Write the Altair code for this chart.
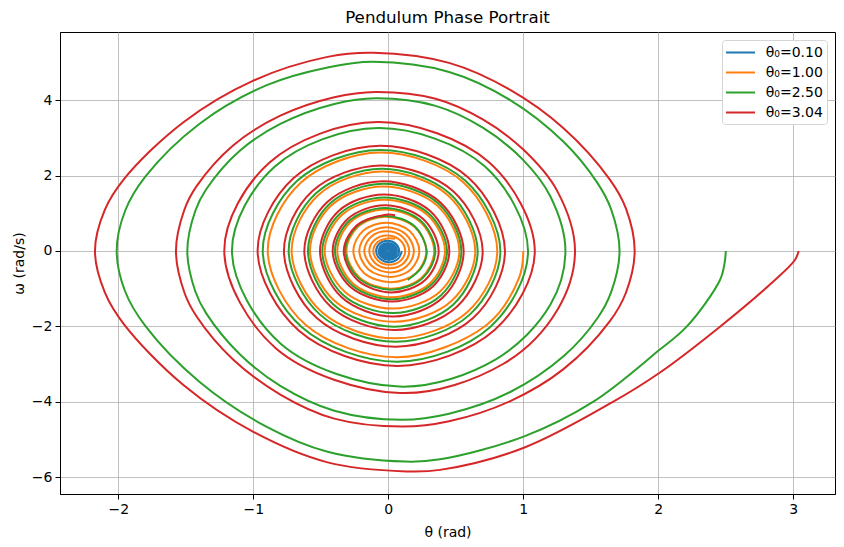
import altair as alt
import pandas as pd

labels = ["θ₀=0.10", "θ₀=1.00", "θ₀=2.50", "θ₀=3.04"]
colors = ["#1f77b4", "#ff7f0e", "#2ca02c", "#d62728"]

# Each trajectory: (θ, ω) points, in drawing order
red_points = [
    (3.04, 0), (3.012, -0.24), (2.852, -0.81), (2.457, -2.01), (2.007, -3.24),
    (1.667, -4.0), (1.0, -5.23), (0.383, -5.81), (0.133, -5.85),
    (-0.45, -5.61), (-1.0, -4.80), (-1.52, -3.55), (-1.955, -1.96), (-2.10, -1.10), (-2.173, 0),
    (-2.10, 1.09), (-1.955, 1.92), (-1.52, 3.41), (-1.0, 4.52), (-0.45, 5.15), (-0.11, 5.26),
    (0.45, 4.99), (0.9, 4.28), (1.3, 3.25), (1.64, 1.90), (1.76, 1.13), (1.825, 0),
    (1.76, -1.11), (1.64, -1.87), (1.3, -3.13), (0.9, -3.99), (0.45, -4.52), (0.105, -4.66),
    (-0.4, -4.45), (-0.8, -3.81), (-1.15, -2.88), (-1.42, -1.74), (-1.51, -1.11), (-1.573, 0),
    (-1.51, 1.10), (-1.42, 1.72), (-1.15, 2.80), (-0.8, 3.59), (-0.4, 4.08), (-0.096, 4.22),
    (0.35, 4.04), (0.7, 3.49), (1.0, 2.69), (1.25, 1.60), (1.383, 0),
    (1.25, -1.58), (0.85, -3.0), (0.086, -3.77), (-0.834, -2.58), (-1.215, 0),
    (-0.882, 2.34), (-0.078, 3.42), (0.744, 2.36), (1.085, 0),
    (0.787, -2.10), (0.069, -3.05), (-0.664, -2.11), (-0.968, 0),
    (-0.703, 1.93), (-0.063, 2.79), (0.592, 1.95), (0.864, 0),
    (0.628, -1.78), (0.058, -2.54), (-0.530, -1.78), (-0.773, 0),
    (-0.562, 1.59), (-0.052, 2.27), (0.479, 1.59), (0.699, 0),
    (0.508, -1.48), (0.048, -2.10), (-0.426, -1.48), (-0.622, 0),
    (-0.452, 1.30), (-0.042, 1.85), (0.382, 1.30), (0.558, 0),
    (0.406, -1.23), (0.04, -1.74), (-0.346, -1.23), (-0.506, 0),
    (-0.368, 1.06), (-0.034, 1.50), (0.310, 1.06), (0.452, 0),
    (0.328, -0.95), (0.03, -1.34), (-0.282, -0.95), (-0.412, 0),
    (-0.299, 0.855), (-0.027, 1.21), (0.256, 0.855), (0.373, 0),
    (0.271, -0.78), (0.025, -1.10), (-0.226, -0.78), (-0.330, 0),
    (-0.233, 0.68), (-0.02, 0.96), (0.05, 0.95),
]

green_points = [
    (2.5, 0), (2.492, -0.3), (2.457, -0.77), (2.21, -2.01), (2.007, -2.63),
    (1.519, -4.0), (1.007, -4.92), (0.383, -5.53), (0.127, -5.59),
    (-0.45, -5.33), (-0.9, -4.67), (-1.4, -3.47), (-1.8, -1.99), (-1.95, -1.07), (-2.012, 0),
    (-1.95, 1.06), (-1.8, 1.97), (-1.4, 3.37), (-0.9, 4.40), (-0.45, 4.87), (-0.114, 5.02),
    (0.45, 4.75), (0.9, 4.01), (1.3, 2.89), (1.55, 1.80), (1.65, 1.11), (1.713, 0),
    (1.65, -1.10), (1.55, -1.78), (1.3, -2.79), (0.9, -3.75), (0.45, -4.32), (0.10, -4.48),
    (-0.4, -4.24), (-0.8, -3.58), (-1.1, -2.74), (-1.35, -1.65), (-1.43, -1.07), (-1.489, 0),
    (-1.43, 1.06), (-1.35, 1.63), (-1.1, 2.66), (-0.8, 3.37), (-0.4, 3.90), (-0.092, 4.05),
    (0.35, 3.85), (0.7, 3.27), (1.0, 2.41), (1.2, 1.45), (1.312, 0),
    (1.2, -1.43), (0.80, -2.87), (0.082, -3.60), (-0.795, -2.47), (-1.158, 0),
    (-0.840, 2.24), (-0.074, 3.26), (0.710, 2.26), (1.035, 0),
    (0.751, -2.03), (0.067, -2.94), (-0.638, -2.03), (-0.930, 0),
    (-0.675, 1.86), (-0.061, 2.68), (0.569, 1.87), (0.830, 0),
    (0.603, -1.69), (0.055, -2.41), (-0.506, -1.69), (-0.738, 0),
    (-0.536, 1.53), (-0.05, 2.18), (0.453, 1.53), (0.662, 0),
    (0.482, -1.42), (0.046, -2.01), (-0.407, -1.42), (-0.595, 0),
    (-0.432, 1.26), (-0.04, 1.78), (0.371, 1.26), (0.541, 0),
    (0.393, -1.17), (0.037, -1.65), (-0.335, -1.17), (-0.489, 0),
    (-0.355, 1.00), (-0.032, 1.42), (0.298, 1.00), (0.435, 0),
    (0.316, -0.905), (0.029, -1.28), (-0.271, -0.905), (-0.395, 0),
    (-0.287, 0.806), (-0.026, 1.14), (0.238, 0.806), (0.348, 0),
    (0.253, -0.728), (0.023, -1.03), (-0.219, -0.728), (-0.319, 0),
    (-0.232, 0.658), (-0.021, 0.93), (0.195, 0.658), (0.284, 0),
    (0.246, -0.44), (0.144, -0.77),
]

orange_points = [
    (1.0, 0), (0.97, -0.70), (0.726, -1.97), (0.064, -2.82), (-0.613, -1.96), (-0.893, 0),
    (-0.649, 1.81), (-0.059, 2.61), (0.553, 1.83), (0.807, 0),
    (0.586, -1.62), (0.053, -2.32), (-0.491, -1.63), (-0.716, 0),
    (-0.520, 1.48), (-0.048, 2.11), (0.441, 1.48), (0.644, 0),
    (0.468, -1.33), (0.043, -1.88), (-0.397, -1.33), (-0.580, 0),
    (-0.421, 1.21), (-0.039, 1.71), (0.360, 1.21), (0.526, 0),
    (0.382, -1.08), (0.035, -1.53), (-0.323, -1.08), (-0.471, 0),
    (-0.342, 0.96), (-0.031, 1.36), (0.288, 0.96), (0.42, 0),
    (0.305, -0.87), (0.028, -1.23), (-0.259, -0.87), (-0.378, 0),
    (-0.275, 0.78), (-0.025, 1.10), (0.233, 0.78), (0.34, 0),
    (0.247, -0.71), (0.023, -1.0), (-0.212, -0.71), (-0.31, 0),
    (-0.225, 0.64), (-0.021, 0.91), (0.193, 0.64), (0.282, 0),
    (0.205, -0.59), (0.019, -0.83), (-0.178, -0.59), (-0.259, 0),
    (-0.188, 0.53), (-0.017, 0.75), (0.158, 0.53), (0.23, 0),
    (0.167, -0.49), (0.016, -0.69), (-0.147, -0.49), (-0.215, 0),
    (-0.156, 0.445), (-0.014, 0.63), (0.130, 0.445), (0.19, 0),
    (0.138, -0.40), (0.013, -0.57), (-0.122, -0.40), (-0.178, 0),
    (-0.129, 0.37), (-0.012, 0.52), (0.106, 0.37), (0.155, 0),
    (0.113, -0.325), (0.010, -0.46), (-0.097, -0.325), (-0.141, 0),
    (-0.102, 0.29), (-0.009, 0.41), (0.086, 0.29), (0.125, 0),
    (0.091, -0.258), (0.008, -0.365), (-0.076, -0.258), (-0.111, 0),
    (-0.081, 0.233), (-0.007, 0.33), (0.05, 0.32),
]

blue_points = [
    (0.1, 0), (0.073, -0.21), (0.007, -0.30), (-0.062, -0.21), (-0.09, 0),
    (-0.066, 0.19), (-0.006, 0.27), (0.055, 0.19), (0.08, 0),
    (0.058, -0.17), (0.005, -0.24), (-0.049, -0.17), (-0.072, 0),
    (-0.052, 0.15), (-0.005, 0.21), (0.044, 0.15), (0.064, 0),
    (0.046, -0.134), (0.004, -0.19), (-0.039, -0.134), (-0.057, 0),
    (-0.041, 0.12), (-0.004, 0.17), (0.035, 0.12), (0.051, 0),
    (0.037, -0.106), (0.003, -0.15), (-0.032, -0.106), (-0.046, 0),
    (-0.033, 0.095), (-0.003, 0.135), (0.029, 0.095), (0.041, 0),
    (0.029, -0.085), (0.003, -0.12), (-0.026, -0.085), (-0.037, 0),
    (-0.026, 0.078), (-0.002, 0.11), (0.023, 0.078), (0.033, 0),
    (0.002, -0.097), (-0.029, 0), (-0.002, 0.086), (0.026, 0),
    (0.002, -0.078), (-0.024, 0), (-0.001, 0.07), (0.021, 0),
    (0.001, -0.063), (-0.019, 0), (-0.001, 0.056), (0.017, 0),
    (0.001, -0.05), (-0.015, 0), (-0.001, 0.044), (0.013, 0),
    (0.001, -0.039), (-0.012, 0), (-0.001, 0.035), (0.011, 0),
]

x_ticks = [-2, -1, 0, 1, 2, 3]
y_ticks = [-6, -4, -2, 0, 2, 4]

FONT = "DejaVu Sans"

x_scale = alt.Scale(domain=[-2.432, 3.309], nice=False, zero=False)
y_scale = alt.Scale(domain=[-6.45, 5.81], nice=False, zero=False)
color_scale = alt.Scale(domain=labels, range=colors)

x_axis = alt.Axis(values=x_ticks, title="θ (rad)", grid=True, tickSize=5,
                  labelPadding=3, titlePadding=9)
y_axis = alt.Axis(values=y_ticks, title="ω (rad/s)", grid=True, tickSize=5,
                  labelPadding=3, titlePadding=5)

# legend line sample: an open path 29 px long, drawn from the entry's left edge
legend = alt.Legend(title=None, orient="none", legendX=662, legendY=8,
                    symbolType="M-1,0H3", symbolSize=210,
                    symbolStrokeWidth=2, symbolOffset=-1.25,
                    labelFontSize=14, labelFont=FONT, labelColor="black",
                    labelOffset=24, padding=4, rowPadding=4,
                    strokeColor="#d5d5d5", fillColor="white", cornerRadius=3)


def layer(name, pts):
    df = pd.DataFrame({"theta": [p[0] for p in pts],
                       "omega": [p[1] for p in pts],
                       "i": list(range(len(pts))), "series": name})
    return alt.Chart(df).mark_line(interpolate="catmull-rom", strokeWidth=2,
                                   clip=True).encode(
        x=alt.X("theta:Q", scale=x_scale, axis=x_axis),
        y=alt.Y("omega:Q", scale=y_scale, axis=y_axis),
        order=alt.Order("i:Q"),
        color=alt.Color("series:N", scale=color_scale, legend=legend),
    )


chart = alt.layer(
    layer(labels[0], blue_points),
    layer(labels[1], orange_points),
    layer(labels[2], green_points),
    layer(labels[3], red_points),
).properties(
    width=775, height=462,
    title=alt.TitleParams("Pendulum Phase Portrait", font=FONT, fontSize=16.7,
                          fontWeight="normal", color="black", anchor="middle",
                          offset=5),
    autosize=alt.AutoSizeParams(type="none"),
    padding={"left": 52, "top": 24, "right": 1, "bottom": 45},
).configure_view(
    stroke="black", strokeWidth=1
).configure_axis(
    labelFont=FONT, titleFont=FONT, labelFontSize=14, titleFontSize=14,
    titleFontWeight="normal", labelColor="black", titleColor="black",
    domainColor="black", tickColor="black", gridColor="#b0b0b0",
    gridWidth=0.8, domainWidth=1
)

chart.save("out.html", embed_options={"renderer": "svg", "actions": False})
